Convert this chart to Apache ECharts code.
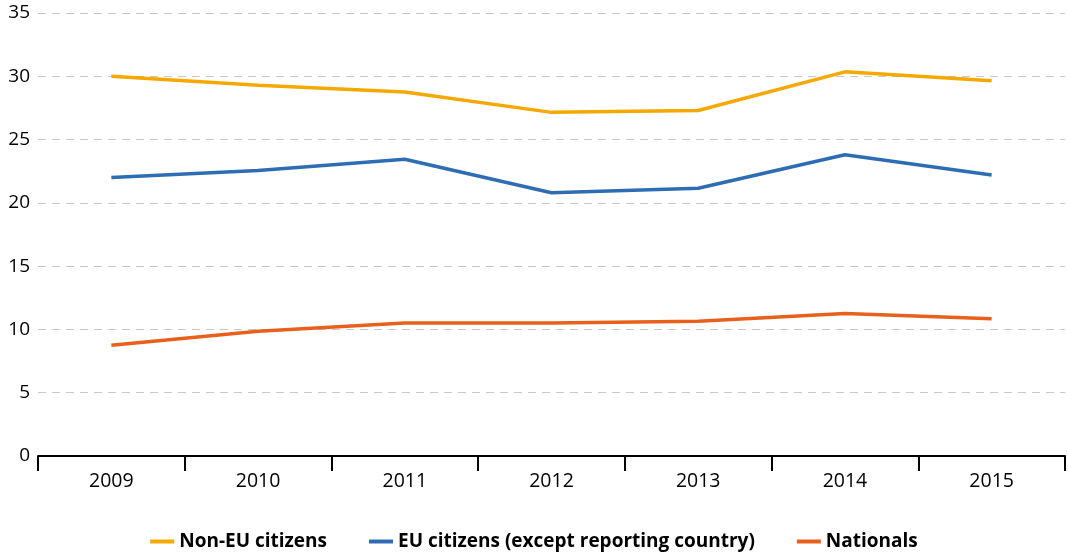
<!DOCTYPE html>
<html>
<head>
    <meta charset="utf-8" />
    <script src="https://cdn.jsdelivr.net/npm/echarts@6.0.0/dist/echarts.min.js"></script>
    <style>
        body { margin: 0px; overflow: hidden; background: #fff; }
        #main { width: 1068px; height: 555px; }
    </style>
</head>
<body>
    <div id="main"></div>
<script type="text/javascript">
    var years = ['2009', '2010', '2011', '2012', '2013', '2014', '2015'];
    var nonEU = [30.0, 29.3, 28.75, 27.15, 27.3, 30.35, 29.65];
    var euCitizens = [22.0, 22.55, 23.45, 20.8, 21.15, 23.8, 22.2];
    var nationals = [8.75, 9.85, 10.5, 10.5, 10.65, 11.25, 10.85];

    var chart = echarts.init(document.getElementById('main'));
    var font = '"Open Sans", "Noto Sans", sans-serif';

    function lineSeries(name, data, color) {
        return {
            name: name,
            type: 'line',
            data: data,
            symbol: 'none',
            lineStyle: { width: 3.5, color: color },
            itemStyle: { color: color }
        };
    }

    chart.setOption({
        animation: false,
        grid: { left: 38, right: 3, top: 13, bottom: 99 },
        legend: {
            bottom: -1,
            left: 'center',
            itemWidth: 24,
            itemHeight: 4,
            itemGap: 42,
            icon: 'rect',
            textStyle: { fontFamily: font, fontSize: 19, fontWeight: 'bold', color: '#000', letterSpacing: -0.3 }
        },
        xAxis: {
            type: 'category',
            data: years,
            boundaryGap: true,
            axisLine: { show: true, lineStyle: { color: '#000', width: 2 } },
            axisTick: { show: true, length: 15, interval: 0, lineStyle: { color: '#000', width: 2 } },
            axisLabel: { fontFamily: font, fontSize: 19.5, color: '#000', margin: 15 }
        },
        yAxis: {
            type: 'value',
            min: 0,
            max: 35,
            interval: 5,
            axisLine: { show: false },
            axisTick: { show: false },
            axisLabel: { fontFamily: font, fontSize: 19, color: '#000', margin: 8 },
            splitLine: { lineStyle: { color: '#c8c8c8', type: [8, 6], width: 1 } }
        },
        series: [
            lineSeries('Non-EU citizens', nonEU, '#F5A800'),
            lineSeries('EU citizens (except reporting country)', euCitizens, '#2E6DB4'),
            lineSeries('Nationals', nationals, '#E8601C')
        ]
    });
</script>
</body>
</html>
